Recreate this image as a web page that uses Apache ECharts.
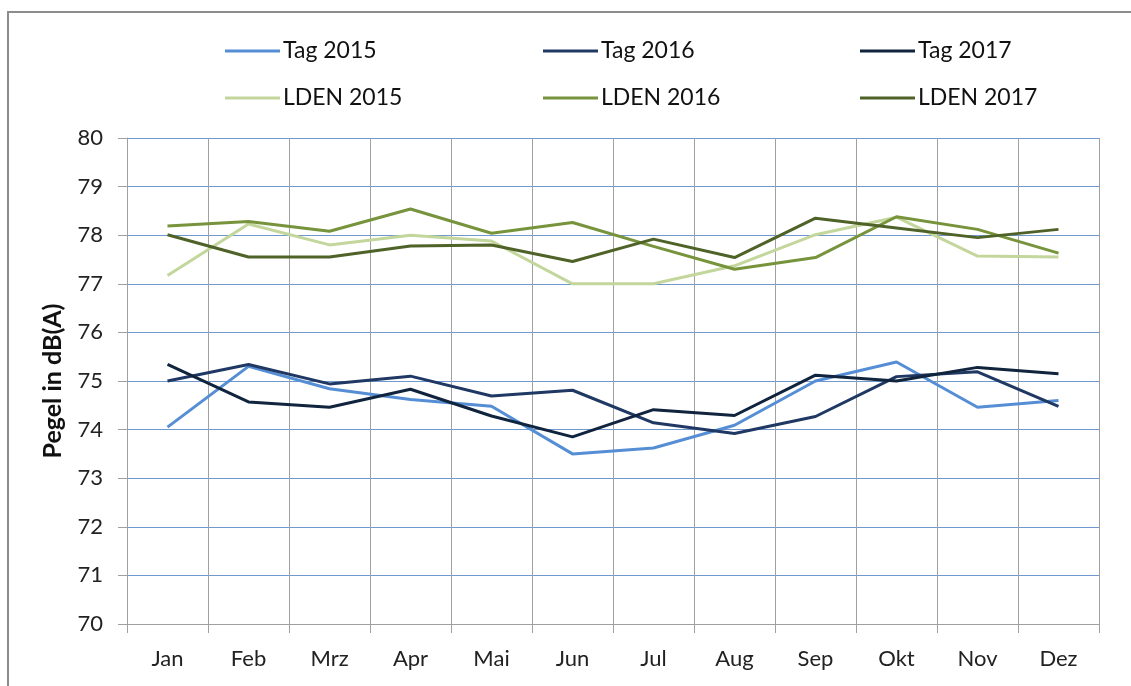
<!DOCTYPE html>
<html>
<head>
    <meta charset="utf-8">
    <title>Pegel in dB(A)</title>
    <script src="https://cdn.jsdelivr.net/npm/echarts@6/dist/echarts.min.js"></script>
    <style>
        html, body { margin: 0; padding: 0; background: #fff; }
        #main { width: 1131px; height: 686px; }
    </style>
</head>
<body>
<div id="main"></div>
<script type="text/javascript">
    // Monate
    var months = ['Jan', 'Feb', 'Mrz', 'Apr', 'Mai', 'Jun', 'Jul', 'Aug', 'Sep', 'Okt', 'Nov', 'Dez'];

    // Tagpegel
    var tag2015 = [74.05, 75.30, 74.84, 74.62, 74.48, 73.50, 73.62, 74.09, 75.00, 75.39, 74.46, 74.60];
    var tag2016 = [75.00, 75.34, 74.94, 75.10, 74.69, 74.81, 74.14, 73.92, 74.27, 75.09, 75.19, 74.48];
    var tag2017 = [75.34, 74.57, 74.46, 74.83, 74.28, 73.85, 74.41, 74.29, 75.12, 75.00, 75.28, 75.15];

    // LDEN
    var lden2015 = [77.17, 78.23, 77.80, 78.00, 77.88, 77.00, 77.00, 77.37, 78.01, 78.37, 77.57, 77.55];
    var lden2016 = [78.19, 78.28, 78.08, 78.54, 78.04, 78.26, 77.77, 77.30, 77.54, 78.38, 78.12, 77.63];
    var lden2017 = [78.01, 77.55, 77.55, 77.78, 77.80, 77.46, 77.92, 77.54, 78.35, 78.15, 77.95, 78.12];

    var FONT = 'Lato';

    function line(name, data, color) {
        return {
            name: name,
            type: 'line',
            data: data,
            symbol: 'none',
            lineStyle: { color: color, width: 3 },
            itemStyle: { color: color },
            emphasis: { disabled: true }
        };
    }

    function legendCol(left, names) {
        return {
            orient: 'vertical',
            left: left,
            top: 39,
            icon: 'rect',
            itemWidth: 55,
            itemHeight: 3,
            itemGap: 23,
            padding: 0,
            selectedMode: false,
            data: names,
            textStyle: { fontFamily: FONT, fontSize: 23, color: '#111', padding: [0, 0, 0, -2], lineHeight: 24 }
        };
    }

    var echart = echarts.init(document.getElementById('main'));
    echart.setOption({
        animation: false,
        backgroundColor: '#fff',
        graphic: [{
            type: 'rect',
            shape: { x: 8, y: 12, width: 1140, height: 700 },
            style: { fill: 'none', stroke: '#8c8c8c', lineWidth: 2 },
            silent: true
        }],
        legend: [
            legendCol(225, ['Tag 2015', 'LDEN 2015']),
            legendCol(543, ['Tag 2016', 'LDEN 2016']),
            legendCol(860, ['Tag 2017', 'LDEN 2017'])
        ],
        grid: { left: 127, right: 32, top: 138, bottom: 62 },
        xAxis: {
            type: 'category',
            data: months,
            boundaryGap: true,
            axisLine: { lineStyle: { color: '#a0a0a0', width: 1 } },
            axisTick: { show: true, length: 9, lineStyle: { color: '#a0a0a0' } },
            splitLine: { show: true, lineStyle: { color: '#a0a0a0', width: 1 } },
            axisLabel: { fontFamily: FONT, fontSize: 22, color: '#222', margin: 24 }
        },
        yAxis: {
            type: 'value',
            min: 70,
            max: 80,
            interval: 1,
            name: 'Pegel in dB(A)',
            nameLocation: 'middle',
            nameGap: 62,
            nameRotate: 90,
            nameTextStyle: { fontFamily: FONT, fontSize: 25, fontWeight: 'bold', color: '#111' },
            axisLine: { show: true, lineStyle: { color: '#a0a0a0', width: 1 } },
            axisTick: { show: true, length: 9, lineStyle: { color: '#a0a0a0' } },
            splitLine: { show: true, lineStyle: { color: '#6f98cf', width: 1 } },
            axisLabel: { fontFamily: FONT, fontSize: 22, color: '#222', margin: 24 }
        },
        series: [
            line('Tag 2015', tag2015, '#558ed5'),
            line('Tag 2016', tag2016, '#1f3864'),
            line('Tag 2017', tag2017, '#10243e'),
            line('LDEN 2015', lden2015, '#c3d69b'),
            line('LDEN 2016', lden2016, '#77933c'),
            line('LDEN 2017', lden2017, '#4f6228')
        ]
    });
</script>
</body>
</html>
